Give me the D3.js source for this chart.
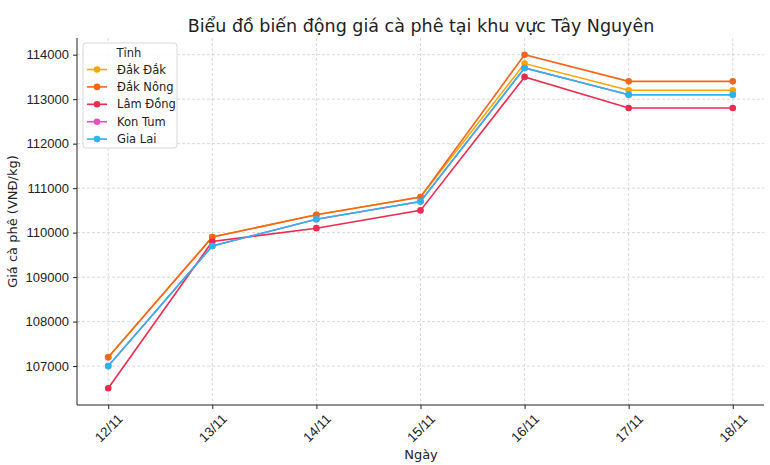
<!DOCTYPE html>
<html><head><meta charset="utf-8">
<script src="https://cdn.jsdelivr.net/npm/d3@7"></script>
<style>body{margin:0;background:#fff;} svg{display:block;font-family:"DejaVu Sans",sans-serif;}</style>
</head><body>
<script>
const dates = ["12/11","13/11","14/11","15/11","16/11","17/11","18/11"];
const provinces = ["Đắk Đắk","Đắk Nông","Lâm Đồng","Kon Tum","Gia Lai"];
const dakDak  = [107200,109900,110400,110800,113800,113200,113200];
const dakNong = [107200,109900,110400,110800,114000,113400,113400];
const lamDong = [106500,109800,110100,110500,113500,112800,112800];
const konTum  = [107000,109700,110300,110700,113700,113100,113100];
const giaLai  = [107000,109700,110300,110700,113700,113100,113100];
const yTicks = [107000,108000,109000,110000,111000,112000,113000,114000];
const colors = ["#FFA500","#F4661B","#EE2A4E","#E84FB8","#2BB5F0"];
const seriesValues = [dakDak,dakNong,lamDong,konTum,giaLai];

const W=770,H=465, L=77,R=764,T=38,B=405;
const svg=d3.select("body").append("svg").attr("width",W).attr("height",H);
const x=d3.scalePoint().domain(dates).range([L,R]).padding(0.3);
const y=d3.scaleLinear().domain([106125,114375]).range([B,T]);

// grid
const g=svg.append("g");
g.selectAll(".gx").data(dates).enter().append("line")
 .attr("x1",d=>x(d)).attr("x2",d=>x(d)).attr("y1",T).attr("y2",B)
 .attr("stroke","#cfcfcf").attr("stroke-width",0.8).attr("stroke-dasharray","3,2");
g.selectAll(".gy").data(yTicks).enter().append("line")
 .attr("x1",L).attr("x2",R).attr("y1",d=>y(d)).attr("y2",d=>y(d))
 .attr("stroke","#cfcfcf").attr("stroke-width",0.8).attr("stroke-dasharray","3,2");

// axes
const xa=svg.append("g").attr("transform",`translate(0,${B})`)
 .call(d3.axisBottom(x).tickSize(4).tickPadding(3).tickSizeOuter(0));
xa.select(".domain").attr("d",`M${L},0H${R}`);
xa.selectAll("text").attr("font-size",13.5).attr("fill","#222")
 .attr("text-anchor","middle").attr("y",0).attr("dy","0.35em")
 .attr("transform","translate(0,23) rotate(-45)");
const ya=svg.append("g").attr("transform",`translate(${L},0)`)
 .call(d3.axisLeft(y).tickValues(yTicks).tickFormat(d3.format("d")).tickSize(4).tickPadding(4).tickSizeOuter(0));
ya.select(".domain").attr("d",`M0,${T}V${B}`);
ya.selectAll("text").attr("font-size",13).attr("fill","#222");
svg.selectAll(".domain").attr("stroke","#222").attr("stroke-width",1);
svg.selectAll(".tick line").attr("stroke","#222");

// lines
const line=d3.line().x((d,i)=>x(dates[i])).y(d=>y(d));
seriesValues.forEach((vals,k)=>{
  svg.append("path").datum(vals).attr("d",line).attr("fill","none")
   .attr("stroke",colors[k]).attr("stroke-width",1.6);
  svg.selectAll(null).data(vals).enter().append("circle")
   .attr("cx",(d,i)=>x(dates[i])).attr("cy",d=>y(d)).attr("r",3.3).attr("fill",colors[k]);
});

// titles
svg.append("text").attr("x",421).attr("y",32).attr("text-anchor","middle")
 .attr("font-size",17.5).attr("fill","#222").text("Biểu đồ biến động giá cà phê tại khu vực Tây Nguyên");
svg.append("text").attr("x",421).attr("y",459).attr("text-anchor","middle")
 .attr("font-size",13).attr("fill","#222").text("Ngày");
svg.append("text").attr("transform",`translate(17,${(T+B)/2}) rotate(-90)`).attr("text-anchor","middle")
 .attr("font-size",13).attr("fill","#222").text("Giá cà phê (VNĐ/kg)");

// legend
const lg=svg.append("g");
lg.append("rect").attr("x",83).attr("y",43).attr("width",94).attr("height",105).attr("rx",3)
 .attr("fill","#fff").attr("fill-opacity",0.85).attr("stroke","#d8d8d8");
lg.append("text").attr("x",129).attr("y",57).attr("text-anchor","middle").attr("font-size",11.5).attr("fill","#222").text("Tỉnh");
provinces.forEach((p,k)=>{
  const yy=69.5+k*17.4;
  lg.append("line").attr("x1",87).attr("x2",107).attr("y1",yy).attr("y2",yy).attr("stroke",colors[k]).attr("stroke-width",1.6);
  lg.append("circle").attr("cx",97).attr("cy",yy).attr("r",3.3).attr("fill",colors[k]);
  lg.append("text").attr("x",117).attr("y",yy+4).attr("font-size",11.5).attr("fill","#222").text(p);
});
</script>
</body></html>
